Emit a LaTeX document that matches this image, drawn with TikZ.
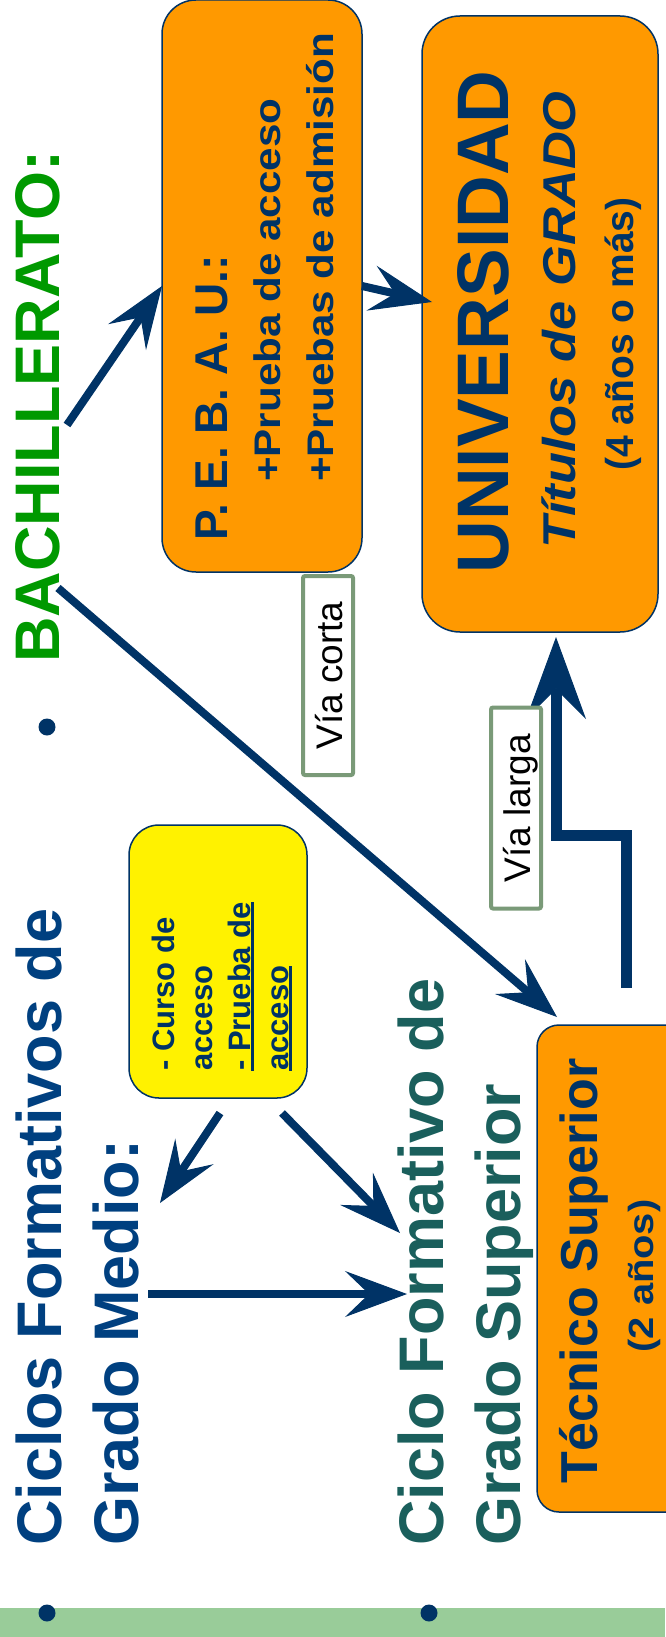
\documentclass[tikz,border=0pt]{standalone}
\usepackage{fontspec}
\setmainfont{Liberation Sans}
\newfontfamily\widesans[FakeStretch=1.14]{Liberation Sans}
\usetikzlibrary{arrows.meta}

\definecolor{navy}{HTML}{003366}
\definecolor{cfblue}{HTML}{004080}
\definecolor{cfteal}{HTML}{1A5F5C}
\definecolor{bachgreen}{HTML}{009900}
\definecolor{boxorange}{HTML}{FF9900}
\definecolor{viagreen}{HTML}{7A9A78}
\definecolor{barfill}{HTML}{99CC99}

\newcommand{\ulline}[1]{\leavevmode\vtop{\hbox{#1}\kern1pt\hrule height 2.5pt}}

\tikzset{
  bigtitle/.style={rotate=90, anchor=base west, inner sep=0, font=\bfseries\fontsize{63}{70}\selectfont},
  vtext/.style={rotate=90, anchor=base, inner sep=0, navy},
  roundbox/.style={draw=navy, fill=boxorange, line width=1.5pt, inner sep=0, outer sep=0, rounded corners=34pt},
  viabox/.style={draw=viagreen, fill=white, line width=4pt, rotate=90, inner sep=0, rounded corners=2pt,
    text height=28pt, text depth=0pt, font=\fontsize{37}{40}\selectfont},
  arr/.style={navy, line width=8pt, -{Stealth[length=62pt,width=46pt,inset=24pt,line width=1pt]}}
}

\begin{document}
\begin{tikzpicture}[x=1pt, y=-1pt]
\useasboundingbox (0,0) rectangle (665,1637);

% Bottom bar and bullets
\fill[barfill] (0,1608) rectangle (665,1637);
\fill[navy] (47,727) circle (8.5pt);
\fill[navy] (47,1613) circle (8.5pt);
\fill[navy] (429,1613) circle (8.5pt);

% Headings
\node[bigtitle, bachgreen] (bach) at (59,663) {BACHILLERATO:};
\node[bigtitle, cfblue] (cfmA) at (61,1546) {Ciclos Formativos de};
\node[bigtitle, cfblue] (cfmB) at (138,1546) {Grado Medio:};
\node[bigtitle, cfteal] (cfsA) at (443,1546) {Ciclo Formativo de};
\node[bigtitle, cfteal] (cfsB) at (520,1546) {Grado Superior};

% Boxes
\node[roundbox, minimum width=200pt, minimum height=572pt] (pebau) at (262,286) {};
\node[roundbox, rounded corners=38pt, minimum width=236pt, minimum height=616pt] (univ) at (540,324) {};
\node[roundbox, fill=yellow, rounded corners=30pt, minimum width=178pt, minimum height=273pt] (curso) at (218,961.5) {};
\node[roundbox, rounded corners=22pt, minimum width=160pt, minimum height=487pt] (tecnico) at (617,1268.5) {};

% Box texts
\node[vtext, anchor=base west, font=\bfseries\fontsize{46}{50}\selectfont] (pebauA) at (227,541) {P. E. B. A. U.:};
\node[vtext, anchor=base west, font=\widesans\bfseries\fontsize{37}{40}\selectfont] (pebauB) at (280,482) {+Prueba de acceso};
\node[vtext, anchor=base west, font=\widesans\bfseries\fontsize{37}{40}\selectfont] (pebauC) at (333,482) {+Pruebas de admisión};

\node[vtext, font=\bfseries\fontsize{73}{80}\selectfont] (univA) at (508,322) {UNIVERSIDAD};
\node[vtext, font=\widesans\bfseries\itshape\fontsize{46}{50}\selectfont] (univB) at (575,320) {Títulos de GRADO};
\node[vtext, font=\bfseries\fontsize{39}{44}\selectfont] (univC) at (633,334) {(4 años o más)};

\node[vtext, anchor=base west, align=left, font=\bfseries\fontsize{31}{38}\selectfont] (cursoT) at (288,1071)
  {- Curso de\\acceso\\\ulline{- Prueba de}\\\ulline{acceso}};

\node[vtext, font=\bfseries\fontsize{52}{56}\selectfont] (tecA) at (597,1271) {Técnico Superior};
\node[vtext, font=\widesans\bfseries\fontsize{35}{40}\selectfont] (tecB) at (653,1276) {(2 años)};

% Arrow ends
\coordinate (bachup) at (67,425);
\coordinate (bachdown) at (58,588);
\coordinate (univin) at (432,302);
\coordinate (tecin) at (557,1017);
\coordinate (tecout) at (626,988);
\coordinate (univlow) at (556,637);
\coordinate (cursoL) at (220,1113);
\coordinate (cursoR) at (282,1113);
\coordinate (medioin) at (160,1203);
\coordinate (superin) at (400,1233);
\coordinate (medioout) at (148,1294);
\coordinate (superside) at (407,1294);

% Arrows
\draw[arr] (bachup) -- (pebau.west);
\draw[arr] (pebau.east) -- (univin);
\draw[arr] (bachdown) -- (tecin);
\draw[arr, line width=11pt, -{Stealth[length=82pt,width=60pt,inset=30pt,line width=1pt]}]
  (tecout) -- ++(0,-153) -| (univlow);
\draw[arr] (cursoL) -- (medioin);
\draw[arr] (cursoR) -- (superin);
\draw[arr] (medioout) -- (superside);

% Labels on the two routes
\node[viabox, minimum width=199pt, minimum height=50pt] (vcorta) at (328,675.5) {Vía corta};
\node[viabox, minimum width=201pt, minimum height=50pt] (vlarga) at (516,808) {Vía larga};

\end{tikzpicture}
\end{document}
